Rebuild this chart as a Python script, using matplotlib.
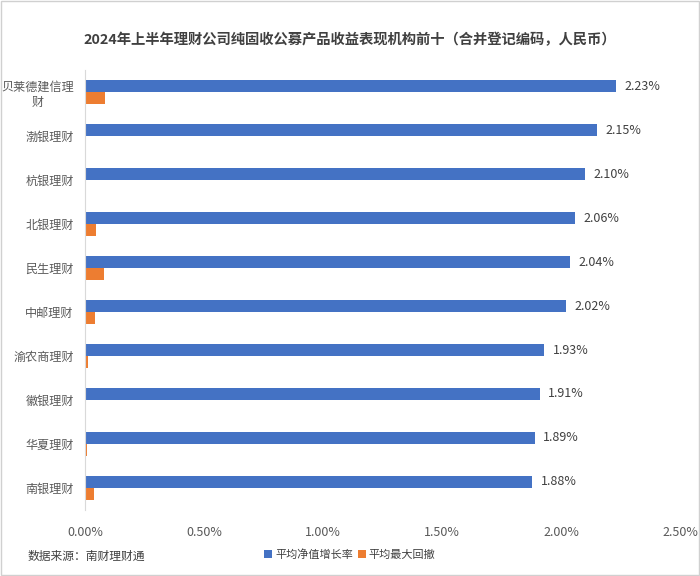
import numpy as np
import matplotlib.pyplot as plt
from matplotlib.patches import Rectangle

plt.rcParams['font.family'] = ['Noto Sans CJK SC', 'DejaVu Sans']

# top-ten companies, first row on top
companies = ['贝莱德建信理\n财', '渤银理财', '杭银理财', '北银理财', '民生理财',
             '中邮理财', '渝农商理财', '徽银理财', '华夏理财', '南银理财']
growth = [2.23, 2.15, 2.10, 2.06, 2.04, 2.02, 1.93, 1.91, 1.89, 1.88]  # 平均净值增长率, %
drawdown = [0.085, 0.0, 0.0, 0.046, 0.08, 0.042, 0.012, 0.004, 0.008, 0.038]  # 平均最大回撤, %
xticks = [0, 0.5, 1.0, 1.5, 2.0, 2.5]

BLUE = '#4472C4'
ORANGE = '#ED7D31'

fig = plt.figure(figsize=(7, 5.76), dpi=100)
ax = fig.add_axes([0.1214, 0.115, 0.85, 0.763])

y = np.arange(len(companies))
h = 0.27
ax.barh(y - h / 2, growth, height=h, color=BLUE, label='平均净值增长率')
ax.barh(y + h / 2, drawdown, height=h, color=ORANGE, label='平均最大回撤')

for yi, v in zip(y, growth):
    ax.text(v + 0.035, yi - h / 2, f'{v:.2f}%', va='center', ha='left',
            fontsize=9, color='#404040')

ax.set_ylim(len(companies) - 0.5, -0.5)
ax.set_xlim(0, 2.5)
ax.set_yticks(y)
ax.set_yticklabels(companies, fontsize=8.7, color='#595959')
for lab in ax.get_yticklabels():
    lab.set_multialignment('center')
ax.set_xticks(xticks)
ax.set_xticklabels([f'{t:.2f}%' for t in xticks], fontsize=9, color='#595959')
ax.tick_params(length=0, pad=8)
ax.tick_params(axis='x', pad=12)
for s in ['top', 'right', 'bottom']:
    ax.spines[s].set_visible(False)
ax.spines['left'].set_color('#D9D9D9')

fig.text(0.5, 0.93, '2024年上半年理财公司纯固收公募产品收益表现机构前十（合并登记编码，人民币）',
         ha='center', va='center', fontsize=10.3, fontweight='bold', color='#404040')
fig.text(0.04, 0.035, '数据来源：南财理财通', ha='left', va='center',
         fontsize=8.5, color='#404040')
fig.legend(loc='center', bbox_to_anchor=(0.5, 0.037), ncol=2, frameon=False,
           fontsize=8, handlelength=0.7, handleheight=0.7, handletextpad=0.3,
           columnspacing=0.4, labelcolor='#404040')

fig.patches.append(Rectangle((0.002, 0.002), 0.996, 0.996, transform=fig.transFigure,
                             fill=False, edgecolor='#D0D0D0', linewidth=1))

fig.savefig('out.png', dpi=100)
